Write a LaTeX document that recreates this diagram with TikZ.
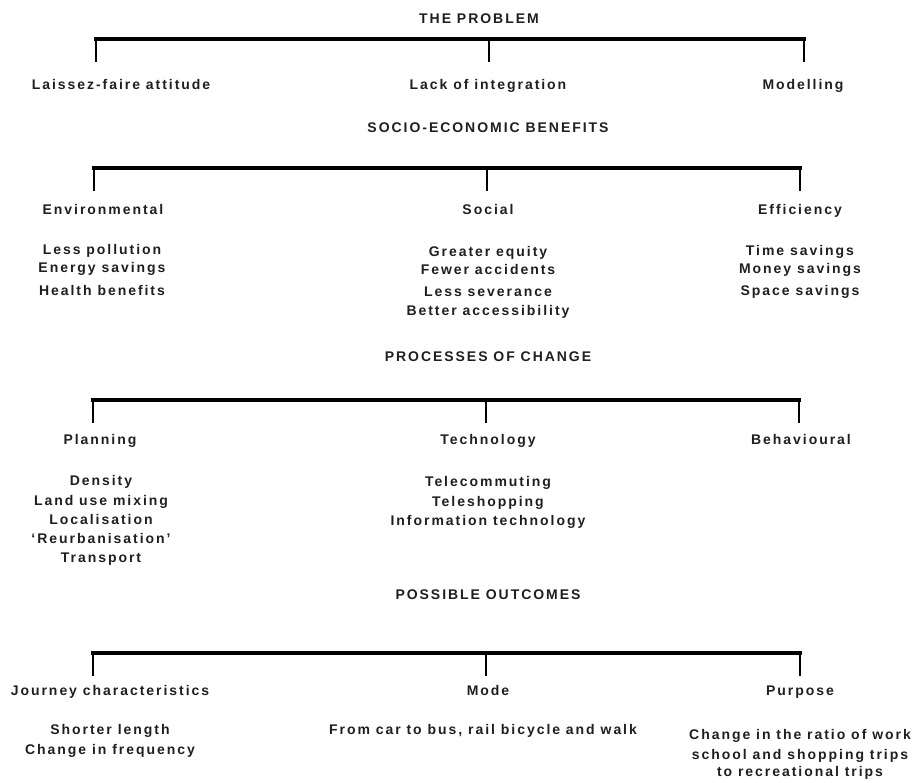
\documentclass[tikz,border=0pt]{standalone}
\usepackage{fontspec}
\setmainfont{Liberation Sans}[LetterSpace=14]
\tikzset{
  lbl/.style={font=\bfseries\fontsize{14}{16}\selectfont, anchor=base, inner sep=0pt, text=black!88, yshift=-0.8pt},
  bar/.style={line width=3.2pt, line join=miter, line cap=rect},
  leg/.style={line width=2.4pt}
}
\newcommand{\bracketdraw}[5]{% name, left x, mid x, right x, top y ; legs 23pt
  \coordinate (#1L) at (#2,#5);
  \coordinate (#1M) at (#3,#5);
  \coordinate (#1R) at (#4,#5);
  \coordinate (#1Le) at (#2,#5+23);
  \coordinate (#1Me) at (#3,#5+23);
  \coordinate (#1Re) at (#4,#5+23);
  \draw[bar] (#1L) -- (#1R);
  \draw[leg] (#1L) -- (#1Le);
  \draw[leg] (#1M) -- (#1Me);
  \draw[leg] (#1R) -- (#1Re);
}
\begin{document}
\begin{tikzpicture}[x=1pt,y=-1pt]
\useasboundingbox (0,0) rectangle (923,783);
% THE PROBLEM
\node[lbl] (t1) at (479,22.5) {THE PROBLEM};
\bracketdraw{b1}{96}{489}{804}{39}
\node[lbl] (p1) at (121,89) {Laissez-faire attitude};
\node[lbl] (p2) at (488,89) {Lack of integration};
\node[lbl] (p3) at (803,89) {Modelling};
% SOCIO-ECONOMIC BENEFITS
\node[lbl] (t2) at (488,131.5) {SOCIO-ECONOMIC BENEFITS};
\bracketdraw{b2}{94}{487}{800}{168}
\node[lbl] (s1) at (103,214) {Environmental};
\node[lbl] (s2) at (488,214) {Social};
\node[lbl] (s3) at (800,214) {Efficiency};
\node[lbl] (s1a) at (102,254) {Less pollution};
\node[lbl] (s1b) at (102,272) {Energy savings};
\node[lbl] (s1c) at (102,295) {Health benefits};
\node[lbl] (s2a) at (488,256) {Greater equity};
\node[lbl] (s2b) at (488,274) {Fewer accidents};
\node[lbl] (s2c) at (488,296) {Less severance};
\node[lbl] (s2d) at (488,315) {Better accessibility};
\node[lbl] (s3a) at (800,255) {Time savings};
\node[lbl] (s3b) at (800,273) {Money savings};
\node[lbl] (s3c) at (800,295) {Space savings};
% PROCESSES OF CHANGE
\node[lbl] (t3) at (488,360.5) {PROCESSES OF CHANGE};
\bracketdraw{b3}{93}{486}{799}{400}
\node[lbl] (c1) at (100,444) {Planning};
\node[lbl] (c2) at (488,444) {Technology};
\node[lbl] (c3) at (801,444) {Behavioural};
\node[lbl] (c1a) at (101,485) {Density};
\node[lbl] (c1b) at (101,505) {Land use mixing};
\node[lbl] (c1c) at (101,524) {Localisation};
\node[lbl] (c1d) at (101,543) {‘Reurbanisation’};
\node[lbl] (c1e) at (101,562) {Transport};
\node[lbl] (c2a) at (488,486) {Telecommuting};
\node[lbl] (c2b) at (488,506) {Teleshopping};
\node[lbl] (c2c) at (488,525) {Information technology};
% POSSIBLE OUTCOMES
\node[lbl] (t4) at (488,598.5) {POSSIBLE OUTCOMES};
\bracketdraw{b4}{93}{486}{800}{653}
\node[lbl] (o1) at (110,695) {Journey characteristics};
\node[lbl] (o2) at (488,695) {Mode};
\node[lbl] (o3) at (800,695) {Purpose};
\node[lbl] (o1a) at (110,734) {Shorter length};
\node[lbl] (o1b) at (110,754) {Change in frequency};
\node[lbl] (o2a) at (483,734) {From car to bus, rail bicycle and walk};
\node[lbl] (o3a) at (800,739) {Change in the ratio of work};
\node[lbl] (o3b) at (800,759) {school and shopping trips};
\node[lbl] (o3c) at (800,776) {to recreational trips};
\end{tikzpicture}
\end{document}
